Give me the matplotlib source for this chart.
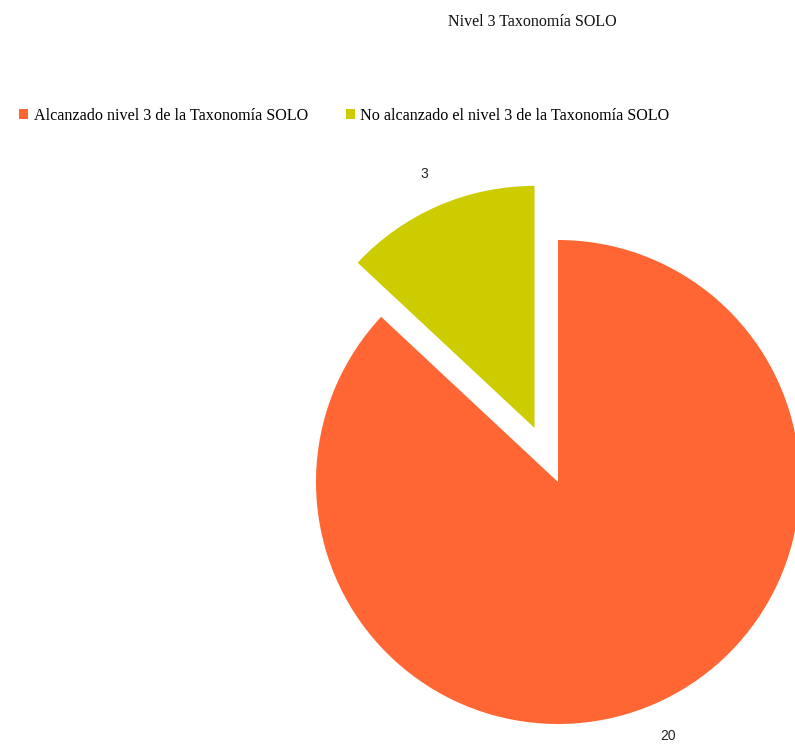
import matplotlib
matplotlib.use("Agg")
import matplotlib.pyplot as plt

categories = ["Alcanzado nivel 3 de la Taxonomía SOLO",
              "No alcanzado el nivel 3 de la Taxonomía SOLO"]
counts = [20, 3]
colors = ["#FF6633", "#CCCC00"]

W, H = 795, 745
R = 242
fig = plt.figure(figsize=(W / 100, H / 100), dpi=100)
ax = fig.add_axes([0, 0, 1, 1])

# explode is absolute (data units), radius is in pixel-like data units here
wedges, texts = ax.pie(counts, colors=colors, explode=[0, 59], startangle=90,
                       counterclock=False, radius=R, center=(558, H - 482),
                       labels=[str(c) for c in counts], labeldistance=1.145,
                       textprops={"fontsize": 10, "family": "Liberation Sans", "color": "#222222"})
for t in texts:
    t.set_ha("center"); t.set_va("center")
ax.set_xlim(0, W); ax.set_ylim(0, H); ax.set_aspect("equal")
ax.axis("off")

fig.text(532 / W, 1 - 22 / H, "Nivel 3 Taxonomía SOLO", ha="center", va="center",
         fontsize=11.5, family="Liberation Serif", color="#111111")
fig.legend(wedges, categories, loc="center left", bbox_to_anchor=(0.006, 1 - 116 / H),
           ncol=2, frameon=False, handlelength=0.55, handleheight=0.55, handletextpad=0.35,
           columnspacing=2.35, prop={"family": "Liberation Serif", "size": 11.6})

fig.savefig("out.png", dpi=100)
